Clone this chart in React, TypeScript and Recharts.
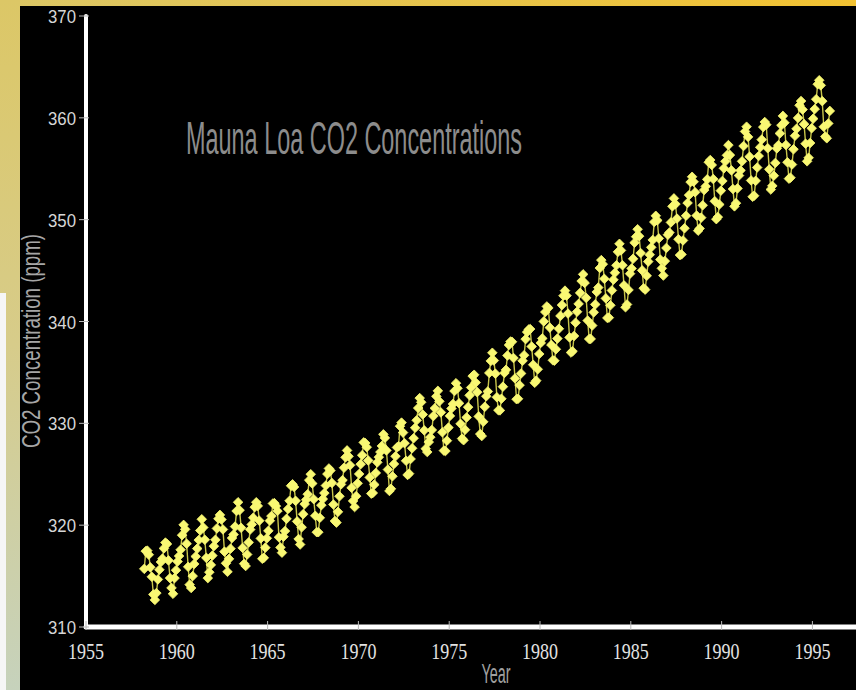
import { Line, LineChart, XAxis, YAxis } from "recharts";

// monthly means (ppm), Mar 1958 .. Dec 1995
const START_YEAR = 1958;
const START_MONTH = 3;

const co2_1958_59 = [
  315.71, 317.45, 317.5, 317.1, 315.86, 314.93, 313.2, 312.66, 313.33, 314.67,
  315.62, 316.38, 316.71, 317.72, 318.29, 318.15, 316.54, 314.8, 313.84, 313.26, 314.8, 315.58,
];
const co2_1960s = [
  316.43, 316.97, 317.58, 319.02, 320.03, 319.59, 318.18, 315.91, 314.16, 313.83, 315.0, 316.19,
  316.93, 317.7, 318.54, 319.48, 320.58, 319.77, 318.57, 316.79, 314.8, 315.38, 316.1, 317.01,
  317.94, 318.56, 319.68, 320.63, 321.01, 320.55, 319.58, 317.4, 316.26, 315.42, 316.69, 317.69,
  318.74, 319.08, 319.86, 321.39, 322.25, 321.47, 319.74, 317.77, 316.21, 315.99, 317.12, 318.31,
  319.57, 320.07, 320.73, 321.77, 322.25, 321.89, 320.44, 318.7, 316.7, 316.79, 317.79, 318.71,
  319.44, 320.44, 320.89, 322.13, 322.16, 321.87, 321.39, 318.81, 317.81, 317.3, 318.87, 319.42,
  320.62, 321.59, 322.39, 323.87, 324.01, 323.75, 322.39, 320.37, 318.64, 318.1, 319.79, 321.08,
  322.07, 322.5, 323.04, 324.42, 325.0, 324.09, 322.55, 320.92, 319.31, 319.31, 320.72, 321.96,
  322.57, 323.15, 323.89, 325.02, 325.57, 325.36, 324.14, 322.03, 320.41, 320.25, 321.31, 322.84,
  324.0, 324.42, 325.64, 326.66, 327.34, 326.76, 325.88, 323.67, 322.38, 321.78, 322.85, 324.11,
];
const co2_1970s = [
  325.03, 325.99, 326.87, 328.13, 328.07, 327.66, 326.35, 324.69, 323.1, 323.16, 323.98, 325.13,
  326.17, 326.68, 327.18, 327.78, 328.92, 328.57, 327.34, 325.46, 323.36, 323.57, 324.8, 326.01,
  326.77, 327.63, 327.75, 329.72, 330.07, 329.09, 328.05, 326.32, 324.93, 325.06, 326.5, 327.55,
  328.54, 329.56, 330.3, 331.5, 332.48, 332.07, 330.87, 329.31, 327.51, 327.18, 328.16, 328.64,
  329.35, 330.71, 331.48, 332.65, 333.19, 332.16, 331.07, 329.12, 327.32, 327.28, 328.3, 329.58,
  330.73, 331.46, 331.9, 333.17, 333.94, 333.45, 331.97, 329.95, 328.5, 328.34, 329.37, 330.58,
  331.59, 332.75, 333.52, 334.64, 334.77, 334.0, 333.06, 330.68, 328.95, 328.75, 330.15, 331.62,
  332.66, 333.13, 334.95, 336.13, 336.93, 336.17, 334.88, 332.56, 331.29, 331.27, 332.41, 333.6,
  334.95, 335.25, 336.66, 337.69, 338.03, 338.01, 336.41, 334.41, 332.37, 332.41, 333.75, 334.9,
  336.14, 336.69, 338.27, 338.96, 339.21, 339.26, 337.54, 335.75, 333.98, 334.19, 335.31, 336.81,
];
const co2_1980s = [
  337.9, 338.34, 340.01, 340.93, 341.48, 341.33, 339.4, 337.7, 336.19, 336.15, 337.27, 338.32,
  339.29, 340.55, 341.61, 342.53, 343.03, 342.54, 340.78, 338.44, 336.95, 337.08, 338.58, 339.88,
  340.96, 341.73, 342.81, 343.97, 344.63, 343.79, 342.32, 340.09, 338.28, 338.29, 339.6, 340.9,
  341.68, 342.9, 343.33, 345.25, 346.03, 345.63, 344.19, 342.27, 340.35, 340.38, 341.59, 343.05,
  344.1, 344.79, 345.52, 346.84, 347.63, 346.98, 345.53, 343.55, 341.4, 341.67, 343.1, 344.7,
  345.21, 346.16, 347.74, 348.33, 349.06, 348.38, 346.72, 345.02, 343.27, 343.13, 344.49, 345.88,
  346.56, 347.28, 348.01, 349.77, 350.38, 349.93, 348.16, 346.08, 345.22, 344.51, 345.93, 347.22,
  348.52, 348.73, 349.73, 351.31, 352.09, 351.53, 350.11, 348.08, 346.52, 346.59, 347.96, 349.16,
  350.39, 351.64, 352.41, 353.69, 354.21, 353.72, 352.69, 350.4, 348.92, 349.13, 350.2, 351.41,
  352.91, 353.27, 353.96, 355.64, 355.86, 355.37, 353.99, 351.81, 350.05, 350.25, 351.49, 352.85,
];
const co2_1990s = [
  353.8, 355.04, 355.73, 356.32, 357.32, 356.34, 354.84, 353.01, 351.31, 351.62, 353.07, 354.33,
  354.84, 355.73, 357.23, 358.66, 359.13, 358.13, 356.19, 353.85, 352.25, 352.35, 353.81, 355.12,
  356.25, 357.11, 357.86, 359.09, 359.59, 359.33, 357.01, 354.94, 352.96, 353.32, 354.32, 355.57,
  357.0, 357.31, 358.47, 359.27, 360.19, 359.52, 357.33, 355.64, 354.03, 354.12, 355.41, 356.91,
  358.24, 358.92, 359.99, 361.23, 361.65, 360.81, 359.38, 357.46, 355.73, 356.08, 357.53, 358.98,
  359.92, 360.86, 361.83, 363.3, 363.69, 363.19, 361.64, 359.12, 358.17, 357.99, 359.45, 360.68,
];

const YEAR_TICKS = [1955, 1960, 1965, 1970, 1975, 1980, 1985, 1990, 1995];
const PPM_TICKS = [310, 320, 330, 340, 350, 360, 370];

const data = [...co2_1958_59, ...co2_1960s, ...co2_1970s, ...co2_1980s, ...co2_1990s].map(
  (ppm, i) => ({ year: START_YEAR + (START_MONTH - 1 + i + 0.5) / 12, ppm })
);

const YearTick = (props: any) => {
  const { x, y, payload } = props;
  return (
    <g>
      <line x1={x} x2={x} y1={y - 6} y2={y + 3} stroke="#b8b8b8" strokeWidth={1} />
      <text
        x={x}
        y={y + 32}
        textAnchor="middle"
        fill="#e2e2e2"
        fontFamily="'Liberation Serif', 'DejaVu Serif', serif"
        fontSize={23}
        textLength={36}
        lengthAdjust="spacingAndGlyphs"
      >
        {payload.value}
      </text>
    </g>
  );
};

const PpmTick = (props: any) => {
  const { x, y, payload } = props;
  return (
    <g>
      <line x1={x - 7} x2={x + 3} y1={y} y2={y} stroke="#b8b8b8" strokeWidth={1} />
      <text
        x={x - 10}
        y={y + 7}
        textAnchor="end"
        fill="#d6d6d6"
        fontFamily="'Liberation Sans', Arial, sans-serif"
        fontSize={19}
        textLength={28}
        lengthAdjust="spacingAndGlyphs"
      >
        {payload.value}
      </text>
    </g>
  );
};

const renderDiamond = (p: any) => {
  const { cx, cy, index } = p;
  const r = 4.8;
  return (
    <polygon
      key={`d${index}`}
      points={`${cx},${cy - r} ${cx + r},${cy} ${cx},${cy + r} ${cx - r},${cy}`}
      fill="#f9f873"
      stroke="#f9f873"
      strokeWidth={0.8}
    />
  );
};

export default function App() {
  return (
    <div style={{ position: "absolute", left: 0, top: 0, width: 856, height: 690, overflow: "hidden", background: "#000" }}>
      {/* slide frame */}
      <div style={{ position: "absolute", left: 0, top: 0, width: 856, height: 6, background: "linear-gradient(to right, #dcc766, #f2c232)" }} />
      <div style={{ position: "absolute", left: 0, top: 0, width: 20, height: 690, background: "linear-gradient(to bottom, #dcc766, #d7cc8a 50%, #c6d2bc)" }} />
      <div style={{ position: "absolute", left: 0, top: 293, width: 6, height: 397, background: "#f6f6f6" }} />

      <div style={{ position: "absolute", left: 0, top: 0 }}>
        <LineChart width={856} height={690} data={data} margin={{ top: 16, right: 0, bottom: 23, left: 26 }}>
          <XAxis
            dataKey="year"
            type="number"
            domain={[1955, 1997.4]}
            ticks={YEAR_TICKS}
            allowDataOverflow
            height={40}
            tickSize={0}
            tickMargin={0}
            tickLine={false}
            axisLine={{ stroke: "#ffffff", strokeWidth: 5, strokeLinecap: "round" }}
            tick={<YearTick />}
          />
          <YAxis
            type="number"
            domain={[310, 370]}
            ticks={PPM_TICKS}
            width={60}
            tickSize={0}
            tickMargin={0}
            tickLine={false}
            axisLine={{ stroke: "#ffffff", strokeWidth: 4, strokeLinecap: "round" }}
            tick={<PpmTick />}
          />
          <Line
            dataKey="ppm"
            type="linear"
            stroke="#c9c64a"
            strokeWidth={1.4}
            dot={renderDiamond}
            activeDot={false}
            isAnimationActive={false}
          />
        </LineChart>
      </div>

      <svg width={856} height={690} style={{ position: "absolute", left: 0, top: 0, pointerEvents: "none" }}>
        <text
          x={186}
          y={154}
          fill="#8c8c8c"
          fontFamily="'Liberation Sans', Arial, sans-serif"
          fontSize={46}
          textLength={336}
          lengthAdjust="spacingAndGlyphs"
        >
          Mauna Loa CO2 Concentrations
        </text>
        <text
          transform="translate(40,341) rotate(-90)"
          x={0}
          y={0}
          textAnchor="middle"
          fill="#a6a6a6"
          fontFamily="'Liberation Sans', Arial, sans-serif"
          fontSize={25}
          textLength={214}
          lengthAdjust="spacingAndGlyphs"
        >
          CO2 Concentration (ppm)
        </text>
        <text
          x={496}
          y={683}
          textAnchor="middle"
          fill="#a0a0a0"
          fontFamily="'Liberation Sans', Arial, sans-serif"
          fontSize={27}
          textLength={29}
          lengthAdjust="spacingAndGlyphs"
        >
          Year
        </text>
      </svg>
    </div>
  );
}
